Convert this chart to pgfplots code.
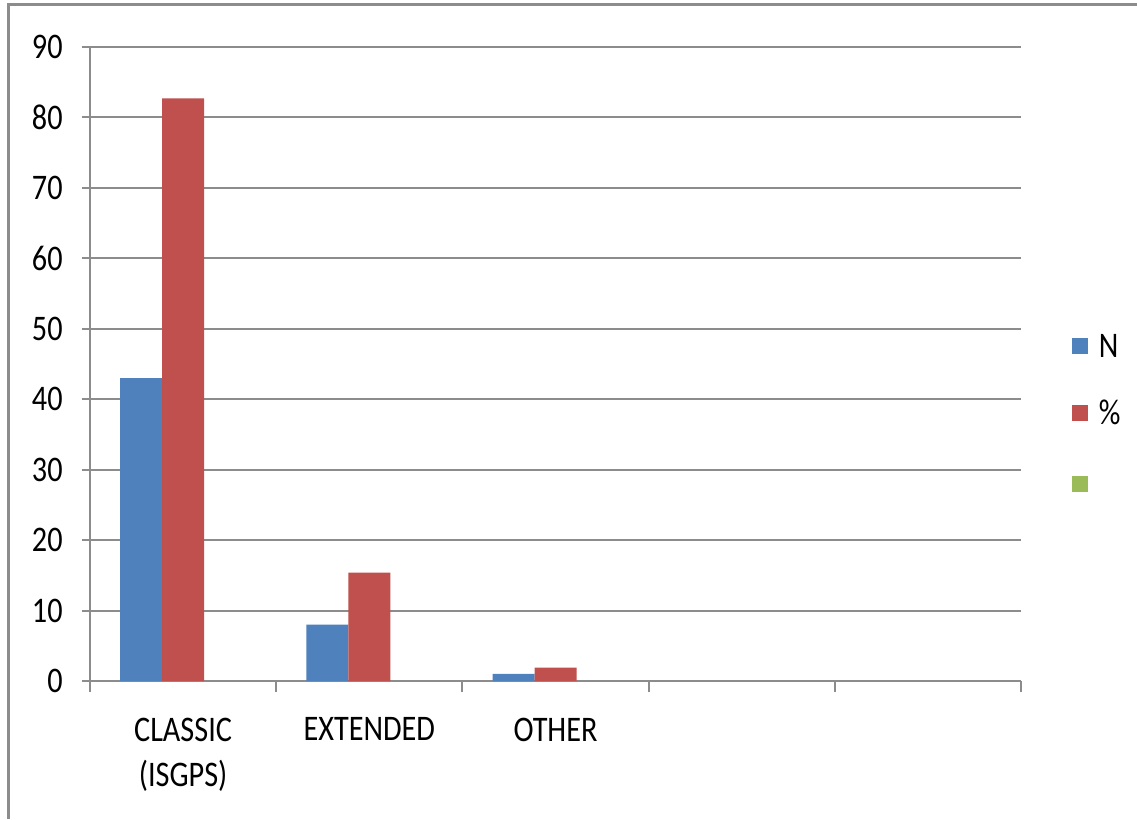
\documentclass[border=0pt]{standalone}
\usepackage{fontspec}
\setmainfont{Carlito}[FakeStretch=0.84]
\usepackage{pgfplots}
\pgfplotsset{compat=1.18}
\definecolor{cblue}{HTML}{4F81BD}
\definecolor{cred}{HTML}{C0504D}
\definecolor{cgreen}{HTML}{9BBB59}
\definecolor{cgrid}{HTML}{8C8C8C}
\begin{document}
\begin{tikzpicture}
\useasboundingbox (0,0) rectangle (852.75pt,614.25pt);
\fill[white] (0,0) rectangle (852.75pt,614.25pt);
\draw[color=cgrid, line width=2.25pt] (6pt,0) -- (6pt,610.5pt) -- (852.75pt,610.5pt);
\begin{axis}[
  at={(67.5pt,103.5pt)}, anchor=south west,
  scale only axis, width=698.25pt, height=475.5pt,
  ybar=0pt, bar width=31.5pt,
  xmin=0.5, xmax=5.5, ymin=0, ymax=90,
  axis x line*=bottom, axis y line*=left,
  axis line style={color=cgrid, line width=1.5pt},
  xtick={1,2,3,4,5},
  xticklabels={{CLASSIC\\(ISGPS)},EXTENDED,OTHER,{},{}},
  minor xtick={0.5,1.5,2.5,3.5,4.5,5.5},
  major x tick style={draw=none},
  minor tick length=8.25pt,
  ytick={0,10,...,90},
  major tick length=6pt,
  tick align=outside,
  tick style={color=cgrid, line width=1.5pt},
  ymajorgrids, grid style={color=cgrid, line width=1.5pt},
  /pgf/number format/assume math mode=true,
  tick label style={font=\fontsize{27}{34}\selectfont, text=black},
  yticklabel style={xshift=-11pt},
  xticklabel style={align=center, yshift=-18pt},
  legend style={draw=none, fill=none, at={(1.0548,0.416)}, anchor=west,
    font=\fontsize{27}{34}\selectfont, row sep=26.5pt, inner sep=0pt,
    /tikz/every odd column/.append style={column sep=6pt}},
  legend cell align=left,
  legend image code/.code={\fill[#1] (0pt,-6pt) rectangle (12pt,6pt);},
]
\addplot[fill=cblue, draw=none, bar shift=-31.5pt] coordinates {(1,43) (2,8) (3,1)};
\addlegendentry{N}
\addplot[fill=cred, draw=none, bar shift=0pt] coordinates {(1,82.7) (2,15.4) (3,1.9)};
\addlegendentry{\%}
\addlegendimage{fill=cgreen, draw=none}
\addlegendentry{\strut}
\end{axis}
\end{tikzpicture}
\end{document}
